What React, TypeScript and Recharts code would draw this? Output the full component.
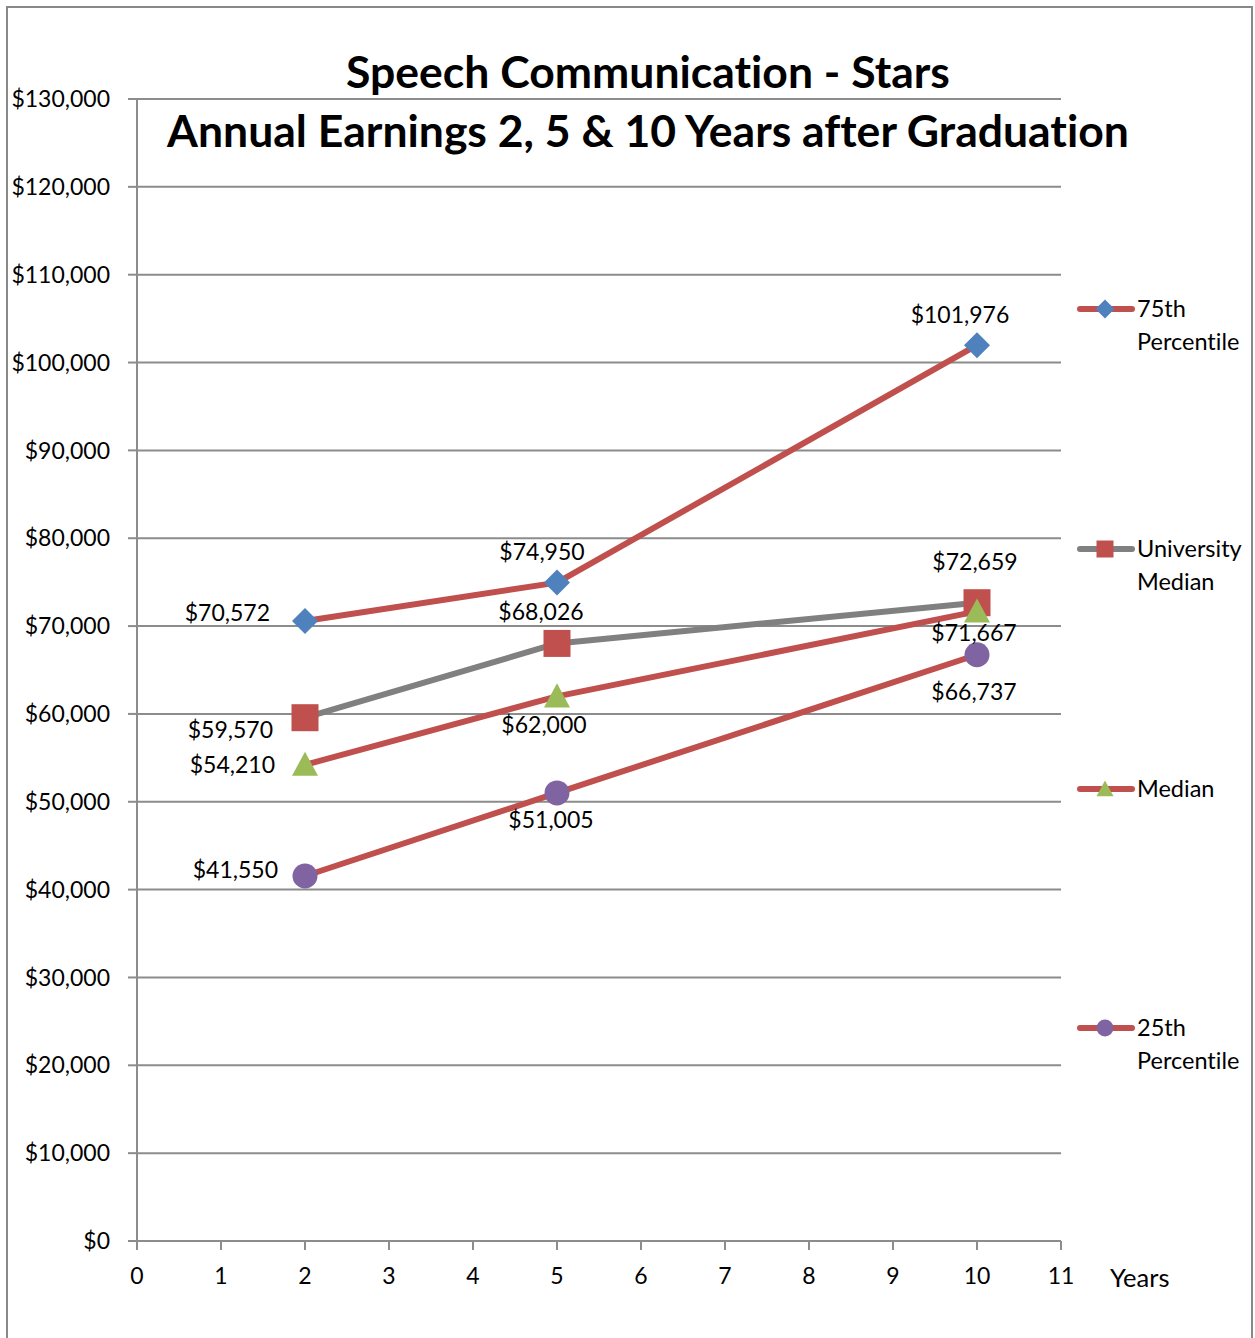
import React from 'react'
import {
  LineChart, Line, XAxis, YAxis, CartesianGrid, LabelList,
} from 'recharts'

const years = [2, 5, 10]
const p75 = [70572, 74950, 101976]
const uniMedian = [59570, 68026, 72659]
const median = [54210, 62000, 71667]
const p25 = [41550, 51005, 66737]
const yTicks = [0, 10000, 20000, 30000, 40000, 50000, 60000, 70000, 80000, 90000, 100000, 110000, 120000, 130000]
const xTicks = [0, 1, 2, 3, 4, 5, 6, 7, 8, 9, 10, 11]
const titleLines = ['Speech Communication - Stars', 'Annual Earnings 2, 5 & 10 Years after Graduation']

const data = years.map((year, i) => ({
  year,
  p75: p75[i],
  uniMedian: uniMedian[i],
  median: median[i],
  p25: p25[i],
}))

const FONT = "Lato, 'Open Sans', sans-serif"
const RED = '#C0504D'
const GRAY = '#808080'
const GRID = '#8c8c8c'

// label placement per point: dx, dy, anchor
type Place = [number, number, 'start' | 'middle' | 'end']
const place75: Place[] = [[-35, -8, 'end'], [-15, -31, 'middle'], [-17, -30, 'middle']]
const placeUni: Place[] = [[-32, 12, 'end'], [-16, -31, 'middle'], [-2, -41, 'middle']]
const placeMed: Place[] = [[-30, 0, 'end'], [-13, 29, 'middle'], [-3, 22, 'middle']]
const place25: Place[] = [[-27, -6, 'end'], [-6, 27, 'middle'], [-3, 37, 'middle']]

const money = (v: number) => `$${v.toLocaleString('en-US')}`

function makeLabel(places: Place[]) {
  return (props: any) => {
    const { x, y, value, index } = props
    const [dx, dy, anchor] = places[index] ?? [0, -20, 'middle']
    return (
      <text
        x={x + dx}
        y={y + dy}
        dy="0.35em"
        textAnchor={anchor}
        fontFamily={FONT}
        fontSize={23}
        fill="#000"
      >
        {money(value)}
      </text>
    )
  }
}

function Marker({ shape, cx, cy, size, color }: any) {
  const h = size / 2
  if (shape === 'diamond') {
    return <polygon points={`${cx},${cy - h} ${cx + h},${cy} ${cx},${cy + h} ${cx - h},${cy}`} fill={color} />
  }
  if (shape === 'square') {
    return <rect x={cx - h} y={cy - h} width={size} height={size} fill={color} />
  }
  if (shape === 'triangle') {
    return <polygon points={`${cx},${cy - h} ${cx + h},${cy + h * 0.85} ${cx - h},${cy + h * 0.85}`} fill={color} />
  }
  return <circle cx={cx} cy={cy} r={h} fill={color} />
}

const series = [
  { key: 'p75', name: ['75th', 'Percentile'], line: RED, marker: '#4F81BD', shape: 'diamond', size: 26, places: place75 },
  { key: 'uniMedian', name: ['University', 'Median'], line: GRAY, marker: RED, shape: 'square', size: 27, places: placeUni },
  { key: 'median', name: ['Median'], line: RED, marker: '#9BBB59', shape: 'triangle', size: 26, places: placeMed },
  { key: 'p25', name: ['25th', 'Percentile'], line: RED, marker: '#8064A2', shape: 'circle', size: 25, places: place25 },
]
const legendTops = [309, 549, 789, 1028]

function LegendItem({ s, top }: any) {
  return (
    <div style={{ position: 'absolute', left: 1074, top: top - 16, display: 'flex', alignItems: 'flex-start' }}>
      <svg width={62} height={32} style={{ flex: 'none' }}>
        <line x1={6} y1={16} x2={58} y2={16} stroke={s.line} strokeWidth={6} strokeLinecap="round" />
        <Marker shape={s.shape} cx={31} cy={16} size={s.shape === 'diamond' ? 19 : 17} color={s.marker} />
      </svg>
      <div style={{ fontFamily: FONT, fontSize: 23.5, lineHeight: '33px', marginTop: -1, marginLeft: 1, color: '#000', fontVariantLigatures: 'none' }}>
        {s.name.map((n: string) => <div key={n}>{n}</div>)}
      </div>
    </div>
  )
}

export default function App() {
  return (
    <div style={{ position: 'absolute', left: 0, top: 0, width: 1255, height: 1338, background: '#fff', overflow: 'hidden' }}>
      <div style={{ position: 'absolute', left: 6, top: 6, width: 1247, height: 1400, border: '2px solid #888', boxSizing: 'border-box' }} />
      <LineChart
        width={1255}
        height={1338}
        data={data}
        margin={{ top: 99, right: 194, left: 0, bottom: 57 }}
        style={{ position: 'absolute', left: 0, top: 0 }}
      >
        <CartesianGrid vertical={false} stroke={GRID} strokeWidth={2} />
        <XAxis
          dataKey="year"
          type="number"
          domain={[0, 11]}
          ticks={xTicks}
          interval={0}
          height={40}
          tickSize={9}
          tickMargin={18}
          axisLine={{ stroke: GRID, strokeWidth: 2 }}
          tickLine={{ stroke: GRID, strokeWidth: 2 }}
          tick={{ fontSize: 23, fill: '#000', fontFamily: FONT }}
        />
        <YAxis
          type="number"
          domain={[0, 130000]}
          ticks={yTicks}
          interval={0}
          width={137}
          tickSize={9}
          tickMargin={18}
          tickFormatter={money}
          axisLine={{ stroke: GRID, strokeWidth: 2 }}
          tickLine={{ stroke: GRID, strokeWidth: 2 }}
          tick={{ fontSize: 23, fill: '#000', fontFamily: FONT }}
        />
        {series.map((s) => (
          <Line
            key={s.key}
            dataKey={s.key}
            stroke={s.line}
            strokeWidth={6}
            strokeLinejoin="round"
            isAnimationActive={false}
            dot={(p: any) => <Marker key={p.index} shape={s.shape} cx={p.cx} cy={p.cy} size={s.size} color={s.marker} />}
            activeDot={false}
          >
            <LabelList dataKey={s.key} content={makeLabel(s.places)} />
          </Line>
        ))}
      </LineChart>
      <div style={{ position: 'absolute', left: 0, width: 1296, top: 41, textAlign: 'center', fontFamily: FONT, fontWeight: 700, fontSize: 44.5, lineHeight: '59px', color: '#000', pointerEvents: 'none', fontVariantLigatures: 'none' }}>
        {titleLines.map((t) => <div key={t}>{t}</div>)}
      </div>
      {series.map((s, i) => <LegendItem key={s.key} s={s} top={legendTops[i]} />)}
      <div style={{ position: 'absolute', left: 1110, top: 1261, fontFamily: FONT, fontSize: 25.5, lineHeight: '32px', color: '#000' }}>Years</div>
    </div>
  )
}
